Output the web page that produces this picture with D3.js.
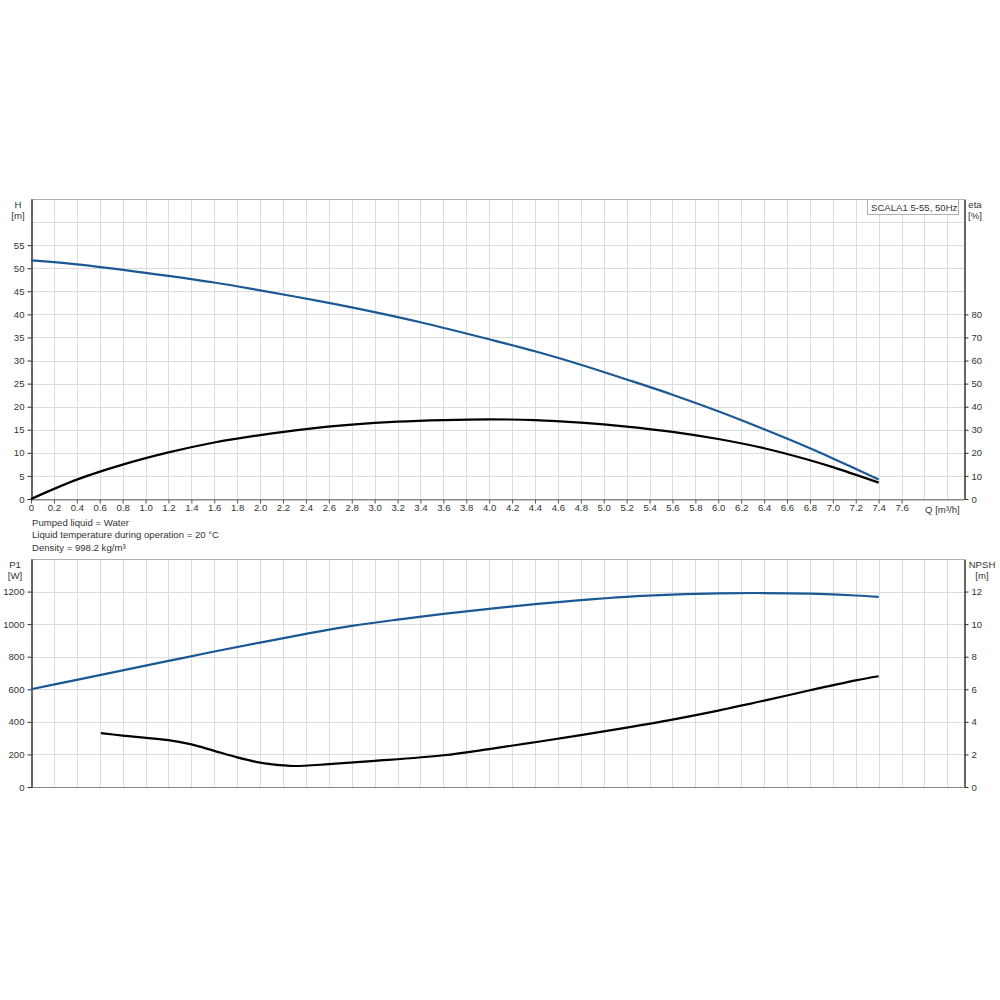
<!DOCTYPE html>
<html><head><meta charset="utf-8">
<script src="https://cdn.jsdelivr.net/npm/d3@7"></script>
<style>
body{margin:0;background:#fff;}
text{font-family:"Liberation Sans",Arial,sans-serif;font-size:9.6px;fill:#333;}
</style></head>
<body>
<svg id="c" width="1000" height="1000"></svg>
<script>
// Flow rate Q [m³/h]
const qH = [0,0.4,1.0,1.6,2.0,2.6,3.0,3.4,4.0,4.4,4.8,5.2,5.6,6.0,6.4,6.8,7.0,7.4];
const headH = [51.7,50.85,49.0,46.9,45.2,42.5,40.5,38.3,34.6,32.0,29.1,25.9,22.6,19.0,15.1,11.0,8.8,4.2];
const qEta = [0,0.4,0.8,1.2,1.6,2.0,2.4,2.8,3.2,3.6,4.0,4.4,4.8,5.2,5.6,6.0,6.4,6.8,7.0,7.4];
const etaVals = [0,8.4,14.9,20.2,24.5,27.7,30.3,32.2,33.5,34.2,34.5,34.2,33.1,31.4,29.1,26.0,22.0,16.8,13.8,7.1];
const qP1 = [0,0.4,0.8,1.2,1.6,2.0,2.4,2.8,3.2,3.6,4.0,4.4,4.8,5.2,5.6,6.0,6.4,6.8,7.2,7.4];
const p1Vals = [600,658,716,774,832,887,940,989,1028,1063,1094,1123,1148,1168,1181,1189,1191,1187,1176,1167];
const qNpsh = [0.61,0.8,1.2,1.4,1.6,1.8,2.0,2.2,2.3,2.6,3.0,3.6,4.0,4.4,4.8,5.2,5.6,6.0,6.4,6.8,7.2,7.4];
const npshVals = [3.31,3.16,2.88,2.62,2.22,1.82,1.5,1.33,1.29,1.4,1.6,1.95,2.33,2.75,3.19,3.65,4.14,4.69,5.3,5.94,6.55,6.8];
const xTickLabels = ["0"].concat(d3.range(1,39).map(i=>(i*0.2).toFixed(1)));
const hTicks = [0,5,10,15,20,25,30,35,40,45,50,55];
const etaTicks = [0,10,20,30,40,50,60,70,80];
const p1Ticks = [0,200,400,600,800,1000,1200];
const npshTicks = [0,2,4,6,8,10,12];
const legendText = "SCALA1 5-55, 50Hz";
const infoLines = ["Pumped liquid = Water","Liquid temperature during operation = 20 °C","Density = 998.2 kg/m³"];

const svg = d3.select("#c");
const L=31, R=964;
const blue="#1a5994";
const FS="9.6px";
const x = d3.scaleLinear().domain([0,8.145]).range([L,R]);
const gridQ = d3.range(0,41).map(i=>i*0.2).filter(v=>v<=8.1);

function panel(top,bottom,yDomL,yDomR,gridStep,ticksL,ticksR){
  const yl=d3.scaleLinear().domain(yDomL).range([bottom,top]);
  const yr=d3.scaleLinear().domain(yDomR).range([bottom,top]);
  const g=svg.append("g");
  g.selectAll(".gv").data(gridQ.slice(1)).join("line")
    .attr("x1",d=>Math.round(x(d))+0.5).attr("x2",d=>Math.round(x(d))+0.5).attr("y1",top).attr("y2",bottom)
    .attr("stroke","#dcdcdc").attr("stroke-width",1);
  g.selectAll(".gh").data(d3.range(yDomL[0]+gridStep,yDomL[1]+0.001,gridStep)).join("line")
    .attr("x1",L).attr("x2",R).attr("y1",d=>Math.round(yl(d))+0.5).attr("y2",d=>Math.round(yl(d))+0.5)
    .attr("stroke","#dcdcdc").attr("stroke-width",1);
  g.append("line").attr("x1",L).attr("x2",R).attr("y1",top+0.5).attr("y2",top+0.5).attr("stroke","#b0b0b0");
  g.append("line").attr("x1",L).attr("x2",R).attr("y1",bottom+0.5).attr("y2",bottom+0.5).attr("stroke","#888");
  const al=g.append("g").attr("transform",`translate(${L+0.5},0)`)
    .call(d3.axisLeft(yl).tickValues(ticksL).tickFormat(d3.format("d")).tickSize(4).tickSizeOuter(0));
  const ar=g.append("g").attr("transform",`translate(${R+0.5},0)`)
    .call(d3.axisRight(yr).tickValues(ticksR).tickFormat(d3.format("d")).tickSize(4).tickSizeOuter(0));
  [al,ar].forEach(a=>{a.select(".domain").attr("stroke","#333").attr("stroke-width",1.5);
    a.selectAll(".tick line").attr("stroke","#333");
    a.selectAll("text").style("font-family","Liberation Sans, Arial, sans-serif").style("font-size",FS).attr("fill","#333");});
  al.selectAll("text").attr("x",-7);
  ar.selectAll("text").attr("x",7);
  return {yl,yr};
}

const top1=panel(199,499,[0,65],[0,130],5,hTicks,etaTicks);
const ax=svg.append("g").attr("transform","translate(0,499.5)")
  .call(d3.axisBottom(x).tickValues(xTickLabels.map(Number)).tickFormat((d,i)=>xTickLabels[i]).tickSize(4).tickSizeOuter(0));
ax.select(".domain").attr("stroke","#888");
ax.selectAll(".tick line").attr("stroke","#555");
ax.selectAll("text").style("font-family","Liberation Sans, Arial, sans-serif").style("font-size",FS).attr("fill","#333").attr("y",5);
svg.append("text").attr("x",925).attr("y",513).text("Q [m³/h]");

svg.append("text").attr("x",18).attr("y",208).attr("text-anchor","middle").text("H");
svg.append("text").attr("x",18).attr("y",219).attr("text-anchor","middle").text("[m]");
svg.append("text").attr("x",975).attr("y",208).attr("text-anchor","middle").text("eta");
svg.append("text").attr("x",975).attr("y",219).attr("text-anchor","middle").text("[%]");

svg.append("rect").attr("x",867.5).attr("y",199.5).attr("width",91).attr("height",15).attr("fill","#fff").attr("stroke","#b0b0b0");
svg.append("text").attr("x",871).attr("y",210.5).text(legendText);

const line=(xs,ys,yS)=>d3.line().curve(d3.curveCatmullRom.alpha(0.5)).x((d,i)=>x(xs[i])).y((d,i)=>yS(ys[i]))(xs);
svg.append("path").attr("d",line(qEta,etaVals,top1.yr)).attr("fill","none").attr("stroke","#000").attr("stroke-width",2.2);
svg.append("path").attr("d",line(qH,headH,top1.yl)).attr("fill","none").attr("stroke",blue).attr("stroke-width",2.2);

infoLines.forEach((t,i)=>svg.append("text").attr("x",32).attr("y",526+i*12.3).text(t));

const bot=panel(559,787,[0,1400],[0,14],200,p1Ticks,npshTicks);
svg.append("text").attr("x",15).attr("y",568).attr("text-anchor","middle").text("P1");
svg.append("text").attr("x",15).attr("y",579).attr("text-anchor","middle").text("[W]");
svg.append("text").attr("x",982).attr("y",568).attr("text-anchor","middle").text("NPSH");
svg.append("text").attr("x",982).attr("y",579).attr("text-anchor","middle").text("[m]");

svg.append("path").attr("d",line(qNpsh,npshVals,bot.yr)).attr("fill","none").attr("stroke","#000").attr("stroke-width",2.2);
svg.append("path").attr("d",line(qP1,p1Vals,bot.yl)).attr("fill","none").attr("stroke",blue).attr("stroke-width",2.2);
</script>
</body></html>
